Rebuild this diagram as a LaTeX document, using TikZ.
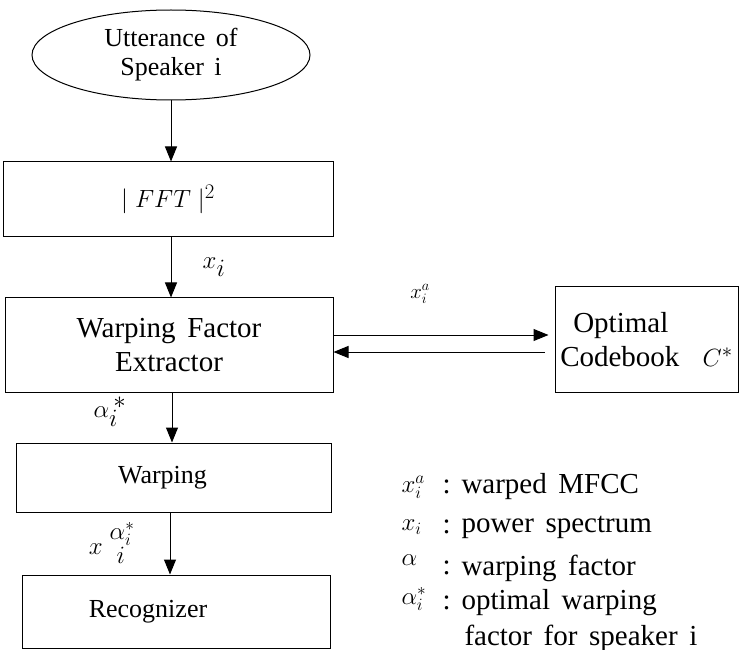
\documentclass[tikz,border=0pt]{standalone}
\usepackage{fontspec}
\setmainfont{Liberation Serif}[WordSpace=1.6]
\usetikzlibrary{arrows.meta}
\usetikzlibrary{shapes.geometric}

\begin{document}
\begin{tikzpicture}[x=1pt,y=-1pt,>={Triangle[length=15pt,width=12pt]},
	line width=1pt,
	box/.style={draw,rectangle,align=center,inner sep=0pt},
	big/.style={font=\fontsize{29}{34}\selectfont},
	narrow/.style={font=\fontsize{26}{29}\selectfont},
	sym/.style={font=\fontsize{23}{26}\selectfont,anchor=west,inner sep=1pt},
	legend/.style={font=\fontsize{29}{32}\selectfont,anchor=west,inner sep=1pt}]
			\useasboundingbox (0,0) rectangle (740,650);
			% blocks
			\node[draw,ellipse,minimum width=278pt,minimum height=90pt,align=center,narrow] (utt) at (171,55) {Utterance of\\Speaker i};
			\node[box,minimum width=330pt,minimum height=75pt,big] (fft) at (168,199.5) {$\mid FFT\mid^2$};
			\node[box,minimum width=328pt,minimum height=94pt,big] (wfe) at (169,345) {Warping\ Factor\\Extractor};
			\node[box,minimum width=183pt,minimum height=105pt,big,align=left] (cb) at (646.5,339.5) {\hspace*{13pt}Optimal\\Codebook\ \ $C^*$};
			\node[box,minimum width=315pt,minimum height=69pt,narrow] (warp) at (173.5,477.5) {Warping\hspace{22pt}};
			\node[box,minimum width=308pt,minimum height=73pt,narrow] (rec) at (176,611.5) {Recognizer\hspace{56pt}};
			% connectors
			\draw[->] (utt.south) -- (utt.south |- fft.north);
			\draw[->] (fft.south -| 171,0) -- (wfe.north -| 171,0);
			\draw[->] (wfe.south -| 172,0) -- (warp.north -| 172,0);
			\draw[->] (warp.south -| 170,0) -- (rec.north -| 170,0);
			\draw[->,shorten >=6pt] ([yshift=10pt]wfe.east) -- ([yshift=10pt]wfe.east -| cb.west);
			\draw[<-,shorten >=10pt] ([yshift=-7pt]wfe.east) -- ([yshift=-7pt]wfe.east -| cb.west);
			% labels
			\node[font=\fontsize{34}{36}\selectfont] (lxi) at (214,267) {$x_i$};
			\node[font=\fontsize{22}{24}\selectfont] (lxa) at (420,294) {$x_i^a$};
			\node[font=\fontsize{34}{36}\selectfont] (lal) at (110,412) {$\alpha_i^{\,*}$};
			\node[font=\fontsize{34}{36}\selectfont] (lxw) at (112,543) {$x\;{}^{\alpha_i^*}_{\;i}$};
			% legend
			\node[sym] (s1) at (400,487) {$x_i^a$};
			\node[sym] (s2) at (400,527) {$x_i$};
			\node[sym] (s3) at (400,560) {$\alpha$};
			\node[sym] (s4) at (400,599) {$\alpha_i^*$};
			\foreach \y/\t in {487/warped\ MFCC,527/power\ spectrum,568/warping\ factor,603/optimal\ warping}{
				\node[legend] at (441,\y) {:};
				\node[legend] at (460,\y) {\t};
			}
			\node[legend] (t5) at (463,638) {factor\ for\ speaker\ i};
		\end{tikzpicture}
\end{document}
